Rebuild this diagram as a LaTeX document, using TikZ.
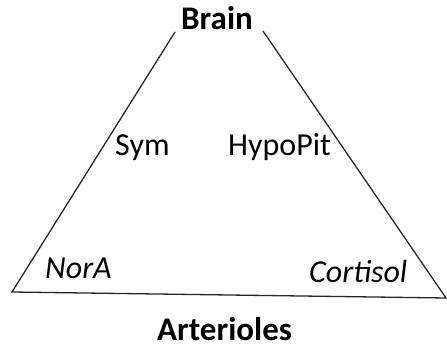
\documentclass[tikz,border=0pt]{standalone}
\usepackage{fontspec}
\setmainfont{Carlito}
\begin{document}
\begin{tikzpicture}[x=1pt,y=-1pt,
  lbl/.style={anchor=base west,inner sep=0pt,font=\fontsize{32}{38}\selectfont},
  title/.style={anchor=base west,inner sep=0pt,font=\fontsize{33}{38}\selectfont\bfseries},
  edge/.style={line width=1.3pt,color=black!85}]
  \useasboundingbox (0,0) rectangle (447,347);
  % triangle corners
  \coordinate (tl) at (175,32);
  \coordinate (tr) at (263,31);
  \coordinate (bl) at (12,292);
  \coordinate (br) at (446,298);
  \draw[edge] (tl) -- (bl) -- (br) -- (tr);
  % labels
  \node[title] (brain) at (181,30) {Brain};
  \node[title] (art) at (157,340) {Arterioles};
  \node[lbl] (sym) at (115,156) {Sym};
  \node[lbl] (hypo) at (228,156) {HypoPit};
  \node[lbl] (nora) at (45,279) {\itshape NorA};
  \node[lbl] (cort) at (309,283) {\itshape Cortisol};
\end{tikzpicture}
\end{document}
